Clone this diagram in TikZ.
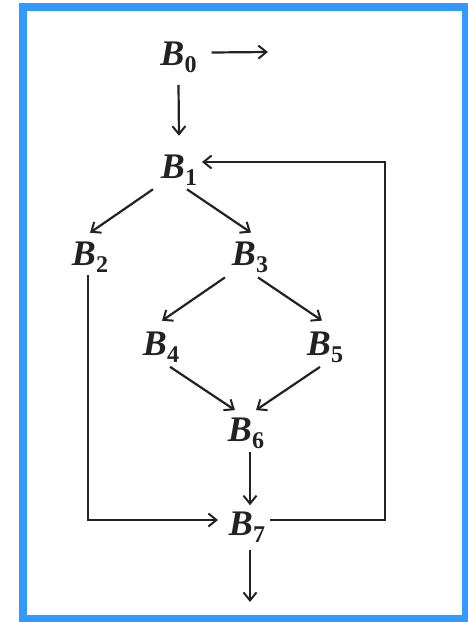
\documentclass[tikz,border=0pt]{standalone}
\usepackage{fontspec}
\setmainfont{Liberation Serif}
\usepackage{xcolor}
\usepackage{tikz}
\usetikzlibrary{arrows.meta,positioning}
\definecolor{FrameBlue}{HTML}{3399FF}
\definecolor{InkGray}{HTML}{222222}
\newcommand\blk[1]{\textbf{\textit{B}}\raisebox{-7pt}{\fontsize{24}{24}\selectfont\textbf{#1}}}

\begin{document}
\begin{tikzpicture}[
  x=1pt,y=-1pt,
  blk/.style={inner sep=0pt,outer sep=0pt,text=InkGray,font=\fontsize{36}{40}\selectfont},
  arr/.style={-{Straight Barb[length=8pt,width=13pt,line width=2pt]},draw=InkGray,line width=2.2pt}
]
\useasboundingbox (0,0) rectangle (468,622);
\draw[FrameBlue,line width=8pt] (22.5,6.5) rectangle (466,618.5);
\node[blk] (b0) at (178.5,57.5) {\blk{0}};
\node[blk] (b1) at (179,170) {\blk{1}};
\node[blk] (b2) at (90,257) {\blk{2}};
\node[blk] (b3) at (250,257) {\blk{3}};
\node[blk] (b4) at (161,347) {\blk{4}};
\node[blk] (b5) at (325,347) {\blk{5}};
\node[blk] (b6) at (246,433) {\blk{6}};
\node[blk] (b7) at (247,527) {\blk{7}};
\coordinate (out0) at (268,52);
\coordinate (out7) at (250,602);
\draw[arr] ([shift={(15,-5)}]b0.east) -- (out0);
\draw[arr] ([shift={(0,12)}]b0.south) -- ([shift={(0,-19)}]b1.north);
\draw[arr] ([shift={(-8,4)}]b1.south west) -- ([shift={(0,-9)}]b2.north);
\draw[arr] ([shift={(8,4)}]b1.south) -- ([shift={(1,-9)}]b3.north);
\draw[arr] ([shift={(-7,5)}]b3.south west) -- ([shift={(1,-11)}]b4.north);
\draw[arr] ([shift={(8,5)}]b3.south) -- ([shift={(-3,-11)}]b5.north);
\draw[arr] ([shift={(9,4.5)}]b4.south) -- ([shift={(-11,-7.5)}]b6.north);
\draw[arr] ([shift={(-5,4.5)}]b5.south) -- ([shift={(10,-7.5)}]b6.north);
\draw[arr] ([shift={(4,3.5)}]b6.south) -- ([shift={(3,-6.5)}]b7.north);
\draw[arr] ([shift={(-2,3)}]b2.south) |- ([shift={(-11,-7)}]b7.west);
\draw[arr] ([shift={(5,-7)}]b7.east) -- ++(115,0) |- ([shift={(5,-8)}]b1.east);
\draw[arr] ([shift={(3,7.5)}]b7.south) -- (out7);
\end{tikzpicture}
\end{document}
